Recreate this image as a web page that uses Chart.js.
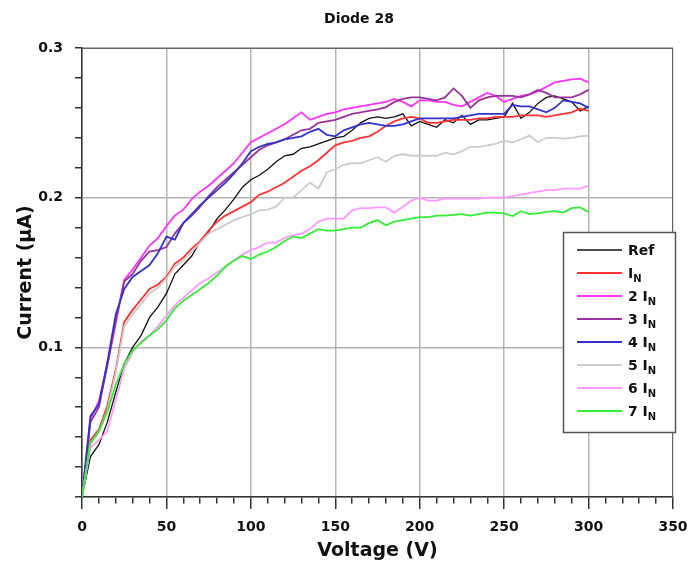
<!DOCTYPE html>
<html>
<head>
<meta charset="utf-8">
<script src="https://cdn.jsdelivr.net/npm/chart.js@4.4.0/dist/chart.umd.min.js"></script>
<style>
  body { margin: 0; background: #fff; }
  #wrap { width: 689px; height: 572px; }
</style>
</head>
<body>
<div id="wrap"><canvas id="diodeChart"></canvas></div>
<script>
// voltage steps (V)
var voltages = [0, 5, 10, 15, 20, 25, 30, 35, 40, 45, 50, 55, 60, 65, 70, 75, 80, 85, 90, 95,
    100, 105, 110, 115, 120, 125, 130, 135, 140, 145, 150, 155, 160, 165, 170, 175, 180, 185, 190, 195,
    200, 205, 210, 215, 220, 225, 230, 235, 240, 245, 250, 255, 260, 265, 270, 275, 280, 285, 290, 295, 300];

// currents in uA, one list per curve
var ref = [0, 0.027, 0.035, 0.050, 0.070, 0.089, 0.100, 0.108, 0.120, 0.127, 0.136, 0.149, 0.155, 0.161, 0.171, 0.177, 0.186, 0.192, 0.199, 0.207,
    0.212, 0.215, 0.219, 0.224, 0.228, 0.229, 0.233, 0.234, 0.236, 0.238, 0.240, 0.241, 0.245, 0.250, 0.253, 0.254, 0.253, 0.254, 0.256, 0.248,
    0.251, 0.249, 0.247, 0.252, 0.250, 0.255, 0.249, 0.252, 0.252, 0.253, 0.254, 0.263, 0.253, 0.257, 0.263, 0.267, 0.268, 0.266, 0.264, 0.258, 0.261];
var in1 = [0, 0.038, 0.045, 0.061, 0.085, 0.117, 0.125, 0.132, 0.139, 0.142, 0.147, 0.156, 0.160, 0.166, 0.171, 0.178, 0.184, 0.188, 0.191, 0.194,
    0.197, 0.202, 0.204, 0.207, 0.210, 0.214, 0.218, 0.221, 0.225, 0.230, 0.235, 0.237, 0.238, 0.240, 0.241, 0.244, 0.248, 0.251, 0.253, 0.254,
    0.253, 0.250, 0.250, 0.251, 0.252, 0.252, 0.252, 0.253, 0.253, 0.254, 0.254, 0.254, 0.255, 0.255, 0.255, 0.254, 0.255, 0.256, 0.257, 0.2595, 0.258];
var in2 = [0, 0.052, 0.064, 0.088, 0.116, 0.145, 0.152, 0.160, 0.168, 0.173, 0.181, 0.188, 0.192, 0.199, 0.204, 0.208, 0.213, 0.218, 0.223, 0.230,
    0.237, 0.240, 0.243, 0.246, 0.249, 0.253, 0.257, 0.252, 0.254, 0.256, 0.257, 0.259, 0.260, 0.261, 0.262, 0.263, 0.264, 0.266, 0.264, 0.261,
    0.265, 0.265, 0.264, 0.264, 0.262, 0.261, 0.264, 0.267, 0.270, 0.268, 0.264, 0.266, 0.268, 0.269, 0.271, 0.274, 0.277, 0.278, 0.279, 0.2795, 0.277];
var in3 = [0, 0.050, 0.060, 0.088, 0.118, 0.144, 0.149, 0.158, 0.164, 0.165, 0.167, 0.176, 0.183, 0.188, 0.194, 0.201, 0.207, 0.212, 0.217, 0.222,
    0.227, 0.232, 0.235, 0.237, 0.239, 0.242, 0.245, 0.246, 0.250, 0.251, 0.252, 0.254, 0.256, 0.257, 0.258, 0.259, 0.2605, 0.264, 0.266, 0.267,
    0.267, 0.266, 0.265, 0.267, 0.273, 0.268, 0.260, 0.265, 0.267, 0.268, 0.268, 0.268, 0.267, 0.269, 0.272, 0.270, 0.267, 0.267, 0.267, 0.269, 0.272];
var in4 = [0, 0.054, 0.062, 0.090, 0.122, 0.139, 0.147, 0.151, 0.155, 0.163, 0.174, 0.172, 0.183, 0.189, 0.195, 0.200, 0.205, 0.210, 0.216, 0.223,
    0.231, 0.234, 0.236, 0.237, 0.239, 0.240, 0.241, 0.244, 0.246, 0.242, 0.241, 0.245, 0.247, 0.249, 0.250, 0.249, 0.248, 0.248, 0.249, 0.251,
    0.253, 0.253, 0.253, 0.253, 0.253, 0.254, 0.255, 0.256, 0.256, 0.256, 0.256, 0.262, 0.261, 0.261, 0.259, 0.257, 0.260, 0.265, 0.264, 0.263, 0.260];
var in5 = [0, 0.036, 0.043, 0.058, 0.083, 0.114, 0.122, 0.129, 0.136, 0.140, 0.146, 0.154, 0.158, 0.164, 0.170, 0.176, 0.179, 0.182, 0.185, 0.187,
    0.189, 0.1915, 0.192, 0.194, 0.200, 0.200, 0.205, 0.210, 0.206, 0.217, 0.219, 0.222, 0.223, 0.223, 0.225, 0.227, 0.224, 0.228, 0.229, 0.228,
    0.228, 0.228, 0.228, 0.230, 0.229, 0.231, 0.234, 0.234, 0.235, 0.236, 0.238, 0.237, 0.239, 0.2415, 0.237, 0.240, 0.240, 0.2395, 0.240, 0.241, 0.2415];
var in6 = [0, 0.033, 0.038, 0.044, 0.065, 0.086, 0.097, 0.104, 0.108, 0.114, 0.121, 0.128, 0.133, 0.138, 0.143, 0.146, 0.150, 0.154, 0.158, 0.162,
    0.165, 0.167, 0.170, 0.170, 0.173, 0.175, 0.176, 0.179, 0.184, 0.186, 0.186, 0.186, 0.1915, 0.193, 0.193, 0.1935, 0.1935, 0.190, 0.194, 0.198,
    0.200, 0.198, 0.198, 0.1994, 0.1994, 0.1994, 0.1994, 0.1994, 0.200, 0.200, 0.200, 0.201, 0.202, 0.203, 0.204, 0.205, 0.205, 0.206, 0.206, 0.206, 0.208];
var in7 = [0, 0.036, 0.044, 0.057, 0.075, 0.089, 0.098, 0.103, 0.108, 0.112, 0.118, 0.126, 0.131, 0.135, 0.139, 0.143, 0.148, 0.154, 0.158, 0.161,
    0.159, 0.162, 0.164, 0.167, 0.171, 0.174, 0.173, 0.176, 0.179, 0.178, 0.178, 0.179, 0.180, 0.180, 0.183, 0.185, 0.1815, 0.184, 0.185, 0.186,
    0.187, 0.187, 0.188, 0.188, 0.1885, 0.189, 0.188, 0.189, 0.190, 0.190, 0.1895, 0.1877, 0.191, 0.189, 0.1895, 0.1905, 0.191, 0.190, 0.193, 0.1935, 0.1905];

var seriesNames = ["Ref", "I_N", "2 I_N", "3 I_N", "4 I_N", "5 I_N", "6 I_N", "7 I_N"];
var seriesColors = ["#111111", "#ff3333", "#ff33ff", "#993399", "#3333cc", "#cccccc", "#ff99ff", "#33ee33"];
var seriesData = [ref, in1, in2, in3, in4, in5, in6, in7];

var FONT = "'DejaVu Sans', sans-serif";

// draws the title and the boxed legend (labels need a subscript N)
var extrasPlugin = {
    id: "extras",
    afterDraw: function (chart) {
        var ctx = chart.ctx;
        var area = chart.chartArea;
        ctx.save();

        // top and right frame of the plot box
        ctx.strokeStyle = "#666";
        ctx.lineWidth = 1;
        ctx.beginPath();
        ctx.moveTo(area.left, area.top + 0.5);
        ctx.lineTo(area.right - 0.5, area.top + 0.5);
        ctx.lineTo(area.right - 0.5, area.bottom);
        ctx.stroke();

        ctx.fillStyle = "#111";
        ctx.font = "bold 14px " + FONT;
        ctx.textAlign = "center";
        ctx.textBaseline = "middle";
        ctx.fillText("Diode 28", 359, 19);

        // legend box
        var bx = 563, by = 232, bw = 112, bh = 200;
        ctx.fillStyle = "#fff";
        ctx.fillRect(bx, by, bw, bh);
        ctx.strokeStyle = "#555";
        ctx.lineWidth = 1.5;
        ctx.strokeRect(bx + 0.5, by + 0.5, bw, bh);

        ctx.textAlign = "left";
        ctx.textBaseline = "alphabetic";
        for (var i = 0; i < seriesNames.length; i++) {
            var y = by + 18 + i * 23;
            ctx.strokeStyle = seriesColors[i];
            ctx.lineWidth = i === 0 ? 1.3 : 1.8;
            ctx.beginPath();
            ctx.moveTo(577, y);
            ctx.lineTo(622, y);
            ctx.stroke();

            ctx.fillStyle = "#111";
            var parts = seriesNames[i].split("_");
            ctx.font = "bold 14px " + FONT;
            ctx.fillText(parts[0], 628, y + 5);
            if (parts.length > 1) {
                var w = ctx.measureText(parts[0]).width;
                ctx.font = "bold 10px " + FONT;
                ctx.fillText(parts[1], 628 + w, y + 9);
            }
        }
        ctx.restore();
    },
};

function isMajorX(v) {
    return Math.round(v) % 50 === 0;
}
function isMajorY(v) {
    return Math.round(v * 50) % 5 === 0;
}

var ctx = document.getElementById("diodeChart").getContext("2d");
var chart = new Chart(ctx, {
    type: "line",
    data: {
        datasets: seriesData.map(function (vals, i) {
            return {
                label: seriesNames[i],
                data: voltages.map(function (v, j) {
                    return { x: v, y: vals[j] };
                }),
                borderColor: seriesColors[i],
                borderWidth: i === 0 ? 1.3 : 1.8,
                pointRadius: 0,
                tension: 0,
                fill: false,
            };
        }).reverse(),
    },
    options: {
        responsive: true,
        maintainAspectRatio: false,
        animation: false,
        layout: { padding: { top: 48, right: 16, left: 0, bottom: 0 } },
        plugins: {
            legend: { display: false },
            title: { display: false },
            tooltip: { enabled: false },
        },
        scales: {
            x: {
                type: "linear",
                min: 0,
                max: 350,
                afterFit: function (scale) {
                    scale.height = 75;
                    // keep the plot edge fixed, the last label fits in the page margin
                    scale.paddingLeft = 0;
                    scale.paddingRight = 0;
                },
                border: { color: "#333", width: 1.5 },
                grid: {
                    color: function (c) {
                        return isMajorX(c.tick.value) ? "#b4b4b4" : "rgba(0,0,0,0)";
                    },
                    lineWidth: 1.5,
                    tickLength: 12,
                    tickColor: "#333",
                    tickWidth: 1.5,
                    tickBorderDash: function (c) {
                        return isMajorX(c.tick.value) ? [] : [6, 20];
                    },
                },
                ticks: {
                    stepSize: 10,
                    autoSkip: false,
                    maxRotation: 0,
                    padding: 10,
                    color: "#111",
                    font: { family: FONT, size: 14, weight: "bold" },
                    callback: function (v) {
                        return isMajorX(v) ? String(v) : "";
                    },
                },
                title: {
                    display: true,
                    text: "Voltage (V)",
                    color: "#111",
                    font: { family: FONT, size: 19, weight: "bold" },
                    padding: { top: 0, bottom: 10 },
                },
            },
            y: {
                min: 0,
                max: 0.3,
                afterFit: function (scale) {
                    scale.width = 82;
                },
                border: { color: "#333", width: 1.5 },
                grid: {
                    color: function (c) {
                        return isMajorY(c.tick.value) ? "#b4b4b4" : "rgba(0,0,0,0)";
                    },
                    lineWidth: 1.5,
                    tickLength: 7,
                    tickColor: "#333",
                    tickWidth: 1.5,
                },
                ticks: {
                    stepSize: 0.02,
                    autoSkip: false,
                    padding: 12,
                    color: "#111",
                    font: { family: FONT, size: 14, weight: "bold" },
                    callback: function (v) {
                        return isMajorY(v) && v > 0.001 ? v.toFixed(1) : "";
                    },
                },
                title: {
                    display: true,
                    text: "Current (\u00b5A)",
                    color: "#111",
                    font: { family: FONT, size: 19, weight: "bold" },
                    padding: { top: 15, bottom: 4 },
                },
            },
        },
    },
    plugins: [extrasPlugin],
});
</script>
</body>
</html>
